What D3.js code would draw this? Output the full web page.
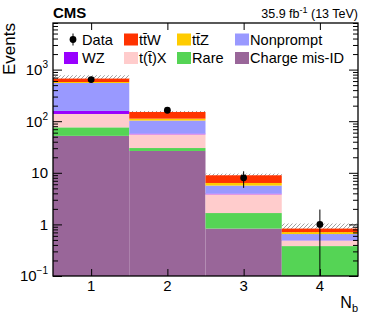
<!DOCTYPE html>
<html>
<head>
<meta charset="utf-8">
<script src="https://cdn.jsdelivr.net/npm/d3@7.9.0/dist/d3.min.js"></script>
<style>
  body { margin: 0; background: #fff; }
  svg text { font-family: "Liberation Sans", Arial, sans-serif; fill: #000; }
</style>
</head>
<body>
<div id="chart"></div>
<script>
// --- data (events per N_b bin) ---
const bins = [1, 2, 3, 4];
const chargeMisID = [52, 26.5, 0.83, 0];
const rare = [24, 3.7, 0.83, 0.38];
const tX = [62, 25.5, 2.17, 0.105];
const wz = [20, 1.8, 0.12, 0.005];
const nonprompt = [392, 45.5, 1.7, 0.16];
const ttZ = [25, 9, 0.7, 0.06];
const ttW = [95, 39, 2.6, 0.12];
const uncert = [106, 7, 0.7, 0.21];        // total bkg uncertainty (hatched)
const dataVals = [640, 163, 8, 1];
const dataLow = [615, 150, 5.1, 0];
const dataHigh = [666, 176, 10.7, 1.94];

const yMajorTicks = [0.1, 1, 10, 100, 1000];
const yTickBase = ["10", "1", "10", "10", "10"];
const yTickExp = ["\u22121", "", "", "2", "3"];

// stack order bottom -> top
const keys = ["misid", "rare", "tx", "wz", "nonprompt", "ttz", "ttw"];
const colors = {
  misid: "#996699", rare: "#55d455", tx: "#ffcccc", wz: "#9900ff",
  nonprompt: "#9999ff", ttz: "#ffcc00", ttw: "#ff3300"
};

// legend, two rows of four
const legendItems = [
  { key: "data", label: "Data" },
  { key: "ttw", label: "tt\u0304W" },
  { key: "ttz", label: "tt\u0304Z" },
  { key: "nonprompt", label: "Nonprompt" },
  { key: "wz", label: "WZ" },
  { key: "tx", label: "t(t\u0304)X" },
  { key: "rare", label: "Rare" },
  { key: "misid", label: "Charge mis-ID" }
];

const W = 374, H = 319;
const plot = { left: 53, right: 358, top: 23, bottom: 276 };

const table = bins.map((b, i) => ({
  bin: b, misid: chargeMisID[i], rare: rare[i], tx: tX[i], wz: wz[i],
  nonprompt: nonprompt[i], ttz: ttZ[i], ttw: ttW[i]
}));
const stacked = d3.stack().keys(keys)(table);
const totals = table.map(d => d3.sum(keys, k => d[k]));

const x = d3.scaleLinear().domain([0.5, 4.5]).range([plot.left, plot.right]);
const y = d3.scaleLog().domain([0.1, 8000]).range([plot.bottom, plot.top]).clamp(true);

const svg = d3.select("#chart").append("svg")
  .attr("width", W).attr("height", H);

// hatch pattern for uncertainty band
svg.append("defs").append("pattern")
  .attr("id", "hatch")
  .attr("patternUnits", "userSpaceOnUse")
  .attr("width", 4).attr("height", 4)
  .append("path")
  .attr("d", "M-1,1 l2,-2 M0,4 l4,-4 M3,5 l2,-2")
  .attr("stroke", "#888").attr("stroke-width", 0.8);

// uncertainty band (stack drawn over it, so only the upper part shows)
svg.append("g").selectAll("rect")
  .data(bins)
  .join("rect")
  .attr("x", (b) => x(b - 0.5))
  .attr("width", (b) => x(b + 0.5) - x(b - 0.5))
  .attr("y", (b, i) => y(totals[i] + uncert[i]))
  .attr("height", (b, i) => y(totals[i] - uncert[i]) - y(totals[i] + uncert[i]))
  .attr("fill", "url(#hatch)");

// stacked backgrounds
svg.append("g").selectAll("g")
  .data(stacked)
  .join("g")
  .attr("fill", s => colors[s.key])
  .selectAll("rect")
  .data(s => s)
  .join("rect")
  .attr("x", d => x(d.data.bin - 0.5))
  .attr("width", d => x(d.data.bin + 0.5) - x(d.data.bin - 0.5))
  .attr("y", d => y(d[1]))
  .attr("height", d => Math.max(0, y(d[0]) - y(d[1])));

// axes: all ticks point inward
const minorTicks = y.ticks().filter(v => !yMajorTicks.some(m => Math.abs(m - v) < 1e-9));

function yAxes(g, side) {
  const ax = side === "left" ? d3.axisLeft : d3.axisRight;
  g.append("g").call(ax(y).tickValues(yMajorTicks).tickSize(-9).tickSizeOuter(0).tickFormat(""));
  g.append("g").call(ax(y).tickValues(minorTicks).tickSize(-5).tickSizeOuter(0).tickFormat(""));
  g.selectAll(".domain").remove();
  g.selectAll("line").attr("stroke", "#000").attr("stroke-width", 1);
}
svg.append("g").attr("transform", `translate(${plot.left},0)`).call(yAxes, "left");
svg.append("g").attr("transform", `translate(${plot.right},0)`).call(yAxes, "right");

const xBottom = svg.append("g").attr("transform", `translate(0,${plot.bottom})`)
  .call(d3.axisBottom(x).tickValues(bins).tickSize(-7).tickSizeOuter(0).tickFormat(""));
const xTop = svg.append("g").attr("transform", `translate(0,${plot.top})`)
  .call(d3.axisTop(x).tickValues(bins).tickSize(-7).tickSizeOuter(0).tickFormat(""));
[xBottom, xTop].forEach(g => {
  g.select(".domain").remove();
  g.selectAll("line").attr("stroke", "#000").attr("stroke-width", 1);
});

// frame
svg.append("rect")
  .attr("x", plot.left).attr("y", plot.top)
  .attr("width", plot.right - plot.left).attr("height", plot.bottom - plot.top)
  .attr("fill", "none").attr("stroke", "#000").attr("stroke-width", 1.3);

// y tick labels with exponents
const yLab = svg.append("g").selectAll("text")
  .data(yMajorTicks)
  .join("text")
  .attr("x", plot.left - 5)
  .attr("y", d => y(d))
  .attr("dy", "0.36em")
  .attr("text-anchor", "end")
  .attr("font-size", 15);
yLab.append("tspan").text((d, i) => yTickBase[i]);
yLab.append("tspan")
  .attr("font-size", 10)
  .attr("dy", "-0.7em")
  .text((d, i) => yTickExp[i]);

// x tick labels
svg.append("g").selectAll("text")
  .data(bins)
  .join("text")
  .attr("x", d => x(d))
  .attr("y", plot.bottom + 15)
  .attr("text-anchor", "middle")
  .attr("font-size", 15)
  .text(d => d);

// data points with error bars
const pts = svg.append("g");
pts.selectAll("line")
  .data(bins)
  .join("line")
  .attr("x1", d => x(d)).attr("x2", d => x(d))
  .attr("y1", (d, i) => y(dataLow[i]))
  .attr("y2", (d, i) => y(dataHigh[i]))
  .attr("stroke", "#000").attr("stroke-width", 1);
pts.selectAll("circle")
  .data(bins)
  .join("circle")
  .attr("cx", d => x(d))
  .attr("cy", (d, i) => y(dataVals[i]))
  .attr("r", 3.4)
  .attr("fill", "#000");

// legend
const colX = [64, 124, 177, 235];
const rowY = [39.5, 58];
const leg = svg.append("g").selectAll("g")
  .data(legendItems)
  .join("g")
  .attr("transform", (d, i) => `translate(${colX[i % 4]},${rowY[Math.floor(i / 4)]})`);
leg.filter(d => d.key !== "data").append("rect")
  .attr("x", 0).attr("y", -6).attr("width", 14).attr("height", 12)
  .attr("fill", d => colors[d.key]);
const dataLeg = leg.filter(d => d.key === "data");
dataLeg.append("line")
  .attr("x1", 9).attr("x2", 9).attr("y1", -6).attr("y2", 6)
  .attr("stroke", "#000");
dataLeg.append("circle").attr("cx", 9).attr("cy", 0).attr("r", 3.4).attr("fill", "#000");
leg.append("text")
  .attr("x", (d, i) => i % 4 === 0 ? 18 : 15)
  .attr("dy", "0.36em")
  .attr("font-size", 14.6)
  .text(d => d.label);

// titles
svg.append("text")
  .attr("x", plot.left).attr("y", 18)
  .attr("font-size", 15).attr("font-weight", "bold")
  .text("CMS");

const lumi = svg.append("text")
  .attr("x", plot.right).attr("y", 18)
  .attr("text-anchor", "end")
  .attr("font-size", 12.5);
lumi.append("tspan").text("35.9 fb");
lumi.append("tspan").attr("font-size", 9).attr("dy", -5).text("-1");
lumi.append("tspan").attr("dy", 5).text(" (13 TeV)");

svg.append("text")
  .attr("transform", `translate(15,${plot.top}) rotate(-90)`)
  .attr("text-anchor", "end")
  .attr("font-size", 17)
  .text("Events");

const xt = svg.append("text")
  .attr("x", plot.right).attr("y", 308)
  .attr("text-anchor", "end")
  .attr("font-size", 16);
xt.append("tspan").text("N");
xt.append("tspan").attr("font-size", 11).attr("dy", 4).text("b");
</script>
</body>
</html>
